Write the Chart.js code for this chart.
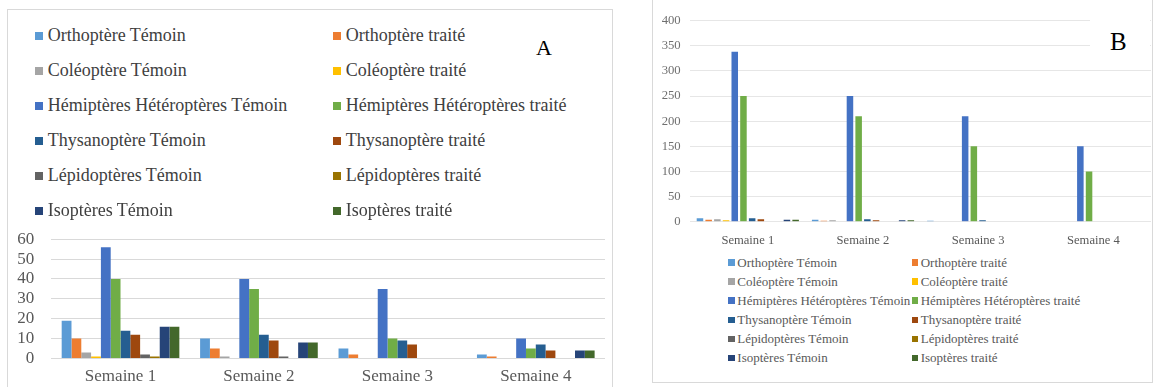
<!DOCTYPE html>
<html lang="fr">
<head>
<meta charset="utf-8">
<title>Effectifs des insectes par semaine</title>
<script src="https://cdn.jsdelivr.net/npm/chart.js@4.4.1/dist/chart.umd.min.js"></script>
<style>
  html, body {
    margin: 0; padding: 0; background: #fff;
    width: 1158px; height: 387px; overflow: hidden; position: relative;
    font-family: "Liberation Serif", "Times New Roman", Times, "DejaVu Serif", serif;
  }
  .frame { position: absolute; box-sizing: border-box; border: 1px solid #d9d9d9; }
  #frameA { left: 7px; top: 9px; width: 606px; height: 420px; }
  #frameB { left: 652px; top: -1px; width: 501px; height: 384px; }
  canvas { position: absolute; display: block; }
  #chartA { left: 7px; top: 212px; }
  #chartB { left: 653px; top: 0px; }
  .legend { position: absolute; left: 0; top: 0; }
  .item { position: absolute; white-space: nowrap; }
  .item i { position: absolute; left: 0; display: block; }
  #legendA .item { font-size: 18px; line-height: 20px; color: #404040; }
  #legendB .item { font-size: 13px; line-height: 15px; color: #595959; }
  .tag { position: absolute; color: #000; line-height: 1; }
  #tagA { left: 536px; top: 37px; font-size: 22px; }
  #maskB { position: absolute; left: 1090px; top: 14px; width: 60px; height: 46px; background: #fff; }
  #tagB { left: 1110px; top: 29px; font-size: 25px; }
</style>
</head>
<body>
<div class="frame" id="frameA"></div>
<div class="frame" id="frameB"></div>
<canvas id="chartA" width="605" height="200"></canvas>
<canvas id="chartB" width="499" height="250"></canvas>
<div class="legend" id="legendA"></div>
<div class="legend" id="legendB"></div>
<div class="tag" id="tagA">A</div>
<div id="maskB"></div>
<div class="tag" id="tagB">B</div>

<script>
// Semaines d'observation (axe des catégories)
const semaines = ['Semaine 1', 'Semaine 2', 'Semaine 3', 'Semaine 4'];

// Groupes d'insectes, parcelle témoin / parcelle traitée
const groupes = [
  'Orthoptère Témoin', 'Orthoptère traité',
  'Coléoptère Témoin', 'Coléoptère traité',
  'Hémiptères Hétéroptères Témoin', 'Hémiptères Hétéroptères traité',
  'Thysanoptère Témoin', 'Thysanoptère traité',
  'Lépidoptères Témoin', 'Lépidoptères traité',
  'Isoptères Témoin', 'Isoptères traité'
];

// Graphique A : effectifs par semaine, dans l'ordre des groupes
const A_semaine1 = [19, 10, 3, 1, 56, 40, 14, 12, 2, 1, 16, 16];
const A_semaine2 = [10, 5, 1, 0, 40, 35, 12, 9, 1, 0, 8, 8];
const A_semaine3 = [5, 2, 0, 0, 35, 10, 9, 7, 0, 0, 0, 0];
const A_semaine4 = [2, 1, 0, 0, 10, 5, 7, 4, 0, 0, 4, 4];

// Graphique B : effectifs par semaine, dans l'ordre des groupes
const B_semaine1 = [7, 4, 5, 3, 338, 250, 7, 5, 1, 0, 4, 4];
const B_semaine2 = [4, 2, 3, 1, 250, 210, 5, 3, 0, 0, 3, 3];
const B_semaine3 = [2, 0, 0, 0, 210, 150, 3, 1, 0, 0, 1, 0];
const B_semaine4 = [0, 0, 0, 0, 150, 100, 1, 0, 0, 0, 0, 0];

// Graduations des axes
const ticksA = [0, 10, 20, 30, 40, 50, 60];
const ticksB = [0, 50, 100, 150, 200, 250, 300, 350, 400];

// Palette Office, une couleur par série
const palette = [
  '#5B9BD5', '#ED7D31', '#A5A5A5', '#FFC000', '#4472C4', '#70AD47',
  '#255E91', '#9E480E', '#636363', '#997300', '#264478', '#43682B'
];

const serif = '"Liberation Serif", "Times New Roman", Times, "DejaVu Serif", serif';

function buildDatasets(weeks) {
  return groupes.map((name, i) => ({
    label: name,
    data: weeks.map(w => w[i]),
    backgroundColor: palette[i],
    borderWidth: 0
  }));
}

function fixedTicks(list) {
  return function (scale) {
    scale.ticks = list.map(v => ({ value: v }));
  };
}

// Légende HTML en deux colonnes, construite à partir des jeux de données
function buildLegend(chart, el, opt) {
  chart.data.datasets.forEach((ds, i) => {
    const col = i % 2, row = Math.floor(i / 2);
    const item = document.createElement('div');
    item.className = 'item';
    item.style.left = opt.cols[col] + 'px';
    item.style.top = (opt.top + row * opt.step) + 'px';
    const box = document.createElement('i');
    box.style.width = opt.box + 'px';
    box.style.height = opt.box + 'px';
    box.style.top = opt.boxTop + 'px';
    box.style.background = ds.backgroundColor;
    const txt = document.createElement('span');
    txt.style.marginLeft = opt.textGap + 'px';
    txt.textContent = ds.label;
    item.appendChild(box);
    item.appendChild(txt);
    el.appendChild(item);
  });
}

const chartA = new Chart(document.getElementById('chartA'), {
  type: 'bar',
  data: { labels: semaines, datasets: buildDatasets([A_semaine1, A_semaine2, A_semaine3, A_semaine4]) },
  options: {
    responsive: false, animation: false, devicePixelRatio: 1,
    layout: { padding: { top: 14, right: 7, left: 0, bottom: 0 } },
    datasets: { bar: { categoryPercentage: 0.85, barPercentage: 1 } },
    plugins: { legend: { display: false }, tooltip: { enabled: false } },
    scales: {
      x: {
        grid: { display: false }, border: { display: false },
        ticks: { font: { family: serif, size: 17 }, color: '#595959', padding: 0 },
        afterFit(s) { s.height = 53.5; }
      },
      y: {
        min: 0, max: 60,
        afterBuildTicks: fixedTicks(ticksA),
        grid: { color: '#d9d9d9', drawTicks: false }, border: { display: false },
        ticks: { autoSkip: false, font: { family: serif, size: 17 }, color: '#595959', padding: 17 },
        afterFit(s) { s.width = 44.3; }
      }
    }
  }
});

const chartB = new Chart(document.getElementById('chartB'), {
  type: 'bar',
  data: { labels: semaines, datasets: buildDatasets([B_semaine1, B_semaine2, B_semaine3, B_semaine4]) },
  options: {
    responsive: false, animation: false, devicePixelRatio: 1,
    layout: { padding: { top: 20.7, right: 1, left: 0, bottom: 0 } },
    datasets: { bar: { categoryPercentage: 0.906, barPercentage: 0.75 } },
    plugins: { legend: { display: false }, tooltip: { enabled: false } },
    scales: {
      x: {
        grid: { display: false }, border: { display: false },
        ticks: { font: { family: serif, size: 12.6 }, color: '#595959', padding: 3 },
        afterFit(s) { s.height = 28.3; }
      },
      y: {
        min: 0, max: 400,
        afterBuildTicks: fixedTicks(ticksB),
        grid: { color: '#e6e6e6', drawTicks: false }, border: { display: false },
        ticks: { autoSkip: false, font: { family: serif, size: 12.7 }, color: '#6f6f6f', padding: 9.5 },
        afterFit(s) { s.width = 37.2; }
      }
    }
  }
});

buildLegend(chartA, document.getElementById('legendA'),
  { cols: [35, 333], top: 24.5, step: 35, box: 8, boxTop: 7, textGap: 12.7 });
buildLegend(chartB, document.getElementById('legendB'),
  { cols: [728.3, 911.7], top: 254.7, step: 19.1, box: 6.5, boxTop: 4.5, textGap: 9 });
</script>
</body>
</html>
